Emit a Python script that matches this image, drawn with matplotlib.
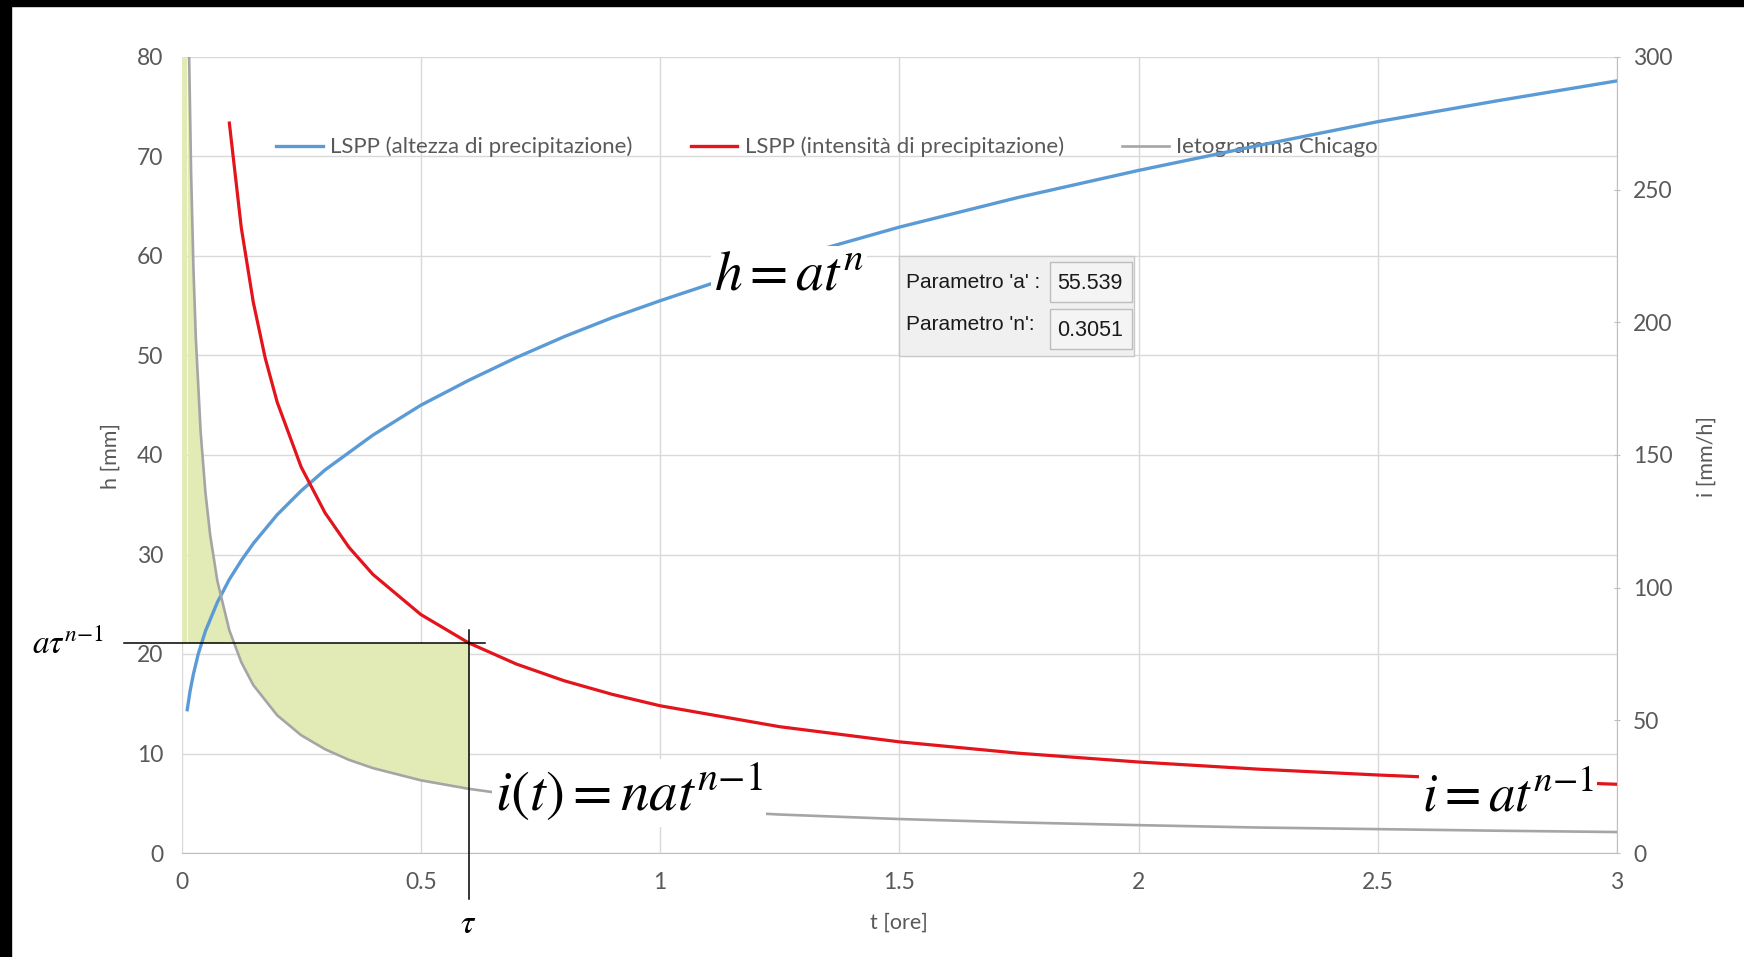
import matplotlib.pyplot as plt
import numpy as np
from matplotlib.lines import Line2D
from matplotlib.patches import Rectangle

plt.rcParams['font.family'] = ['Lato', 'DejaVu Sans']
plt.rcParams['mathtext.fontset'] = 'stix'

# parametri della LSPP (riquadro di input)
a_par = '55.539'
n_par = '0.3051'

# LSPP - altezza di precipitazione h [mm], asse sinistro
t_h = [0.012, 0.018, 0.025, 0.035, 0.05, 0.075, 0.1, 0.125, 0.15, 0.2, 0.25, 0.3,
       0.4, 0.5, 0.6, 0.7, 0.8, 0.9, 1.0, 1.25, 1.5, 1.75, 2.0, 2.25, 2.5, 2.75, 3.0]
h_mm = [14.4, 16.3, 18.0, 20.0, 22.3, 25.2, 27.5, 29.4, 31.1, 34.0, 36.4, 38.5,
        42.0, 45.0, 47.5, 49.8, 51.9, 53.8, 55.5, 59.5, 62.9, 65.9, 68.6, 71.1, 73.5, 75.6, 77.6]

# LSPP - intensita' di precipitazione i [mm/h], asse destro
t_i = [0.1, 0.125, 0.15, 0.175, 0.2, 0.25, 0.3, 0.35, 0.4, 0.5, 0.6, 0.7, 0.8, 0.9,
       1.0, 1.25, 1.5, 1.75, 2.0, 2.25, 2.5, 2.75, 3.0]
i_lspp = [275.1, 235.6, 207.6, 186.5, 169.9, 145.5, 128.2, 115.2, 105.0, 89.9, 79.2, 71.2,
          64.9, 59.8, 55.5, 47.6, 41.9, 37.6, 34.3, 31.6, 29.4, 27.5, 25.9]

# ietogramma Chicago [mm/h], asse destro
t_c = [0.012, 0.016, 0.02, 0.025, 0.03, 0.04, 0.05, 0.06, 0.075, 0.1, 0.125, 0.15, 0.2,
       0.25, 0.3, 0.35, 0.4, 0.5, 0.6, 0.7, 0.8, 0.9, 1.0, 1.25, 1.5, 1.75, 2.0, 2.25,
       2.5, 2.75, 3.0]
i_chicago = [366.0, 299.8, 256.9, 220.0, 193.8, 158.7, 135.9, 119.7, 102.5, 83.9, 71.9, 63.3,
             51.9, 44.4, 39.1, 35.1, 32.0, 27.4, 24.2, 21.7, 19.8, 18.2, 16.9, 14.5, 12.8,
             11.5, 10.5, 9.6, 9.0, 8.4, 7.9]

# durata tau e intensita' corrispondente a*tau^(n-1)
tau = 0.6
i_tau = 79.2

x_ticks = [0, 0.5, 1, 1.5, 2, 2.5, 3]
x_labels = ['0', '0.5', '1', '1.5', '2', '2.5', '3']
h_ticks = [0, 10, 20, 30, 40, 50, 60, 70, 80]
i_ticks = [0, 50, 100, 150, 200, 250, 300]

labels = ['LSPP (altezza di precipitazione)', 'LSPP (intensità di precipitazione)',
          'Ietogramma Chicago']

c_blue = '#5B9BD5'
c_red = '#E3141B'
c_gray = '#A5A5A5'
c_fill = '#E2EAB6'
c_text = '#595959'

W, H = 1744, 957


def fx(px):
    return px / W


def fy(py):
    return 1 - py / H


fig = plt.figure(figsize=(W / 100, H / 100), dpi=100)
ax = fig.add_axes([fx(181.5), fy(853), (1617 - 181.5) / W, (853 - 57) / H])
ax2 = ax.twinx()

# area tra ietogramma e intensita' costante fino a tau
tc = np.array(t_c)
ic = np.array(i_chicago)
m = tc <= tau
ax.fill_between(tc[m], ic[m], i_tau, color=c_fill, lw=0, zorder=1,
                transform=ax2.transData)
ax.fill_between([0, tc[0]], ic[0], i_tau, color=c_fill, lw=0, zorder=1,
                transform=ax2.transData)

ax.plot(t_h, h_mm, color=c_blue, lw=2.4, zorder=3)
ax2.plot(t_c, i_chicago, color=c_gray, lw=1.9, zorder=2)
ax2.plot(t_i, i_lspp, color=c_red, lw=2.3, zorder=3)

# linee di riferimento su tau
ax2.plot([-0.12, tau + 0.035], [i_tau, i_tau], color='black', lw=1.1, clip_on=False, zorder=6)
ax2.plot([tau, tau], [-17.5, i_tau + 5], color='black', lw=1.1, clip_on=False, zorder=6)

ax.set_xlim(0, 3)
ax.set_ylim(0, 80)
ax2.set_ylim(0, 300)
ax.set_xticks(x_ticks)
ax.set_xticklabels(x_labels)
ax.set_yticks(h_ticks)
ax2.set_yticks(i_ticks)

ax.grid(True, color='#D9D9D9', lw=1.0)
ax.set_axisbelow(True)
for s in ['top', 'left', 'right']:
    ax.spines[s].set_visible(False)
ax.spines['bottom'].set_color('#BFBFBF')
for s in ['top', 'left', 'bottom']:
    ax2.spines[s].set_visible(False)
ax2.spines['right'].set_color('#BFBFBF')

ax.tick_params(axis='both', length=0, labelsize=16.5, labelcolor=c_text)
ax.tick_params(axis='y', pad=13)
ax.tick_params(axis='x', pad=14)
ax2.tick_params(axis='y', direction='inout', length=5, color='#BFBFBF',
                labelsize=16.5, labelcolor=c_text, pad=9)

handles = [Line2D([], [], color=c_blue, lw=2.4),
           Line2D([], [], color=c_red, lw=2.4),
           Line2D([], [], color=c_gray, lw=1.9)]
leg = ax.legend(handles, labels, loc='center left', bbox_to_anchor=(fx(276), fy(147)),
                bbox_transform=fig.transFigure, ncol=3, frameon=False, fontsize=16,
                handlelength=2.1, handletextpad=0.35, columnspacing=2.6,
                borderpad=0, borderaxespad=0)
for txt in leg.get_texts():
    txt.set_color(c_text)
leg.set_zorder(2.5)

fig.text(fx(111), fy(456), 'h [mm]', rotation=90, ha='center', va='center',
         size=15.5, color=c_text)
fig.text(fx(1707), fy(456), 'i [mm/h]', rotation=90, ha='center', va='center',
         size=15.5, color=c_text)
fig.text(fx(899), fy(923), 't [ore]', ha='center', va='center', size=15.5, color=c_text)

# formule
box = dict(facecolor='white', edgecolor='none', pad=2)
ax.text(1.27, 58.2, r'$h=at^n$', size=40, ha='center', va='center', bbox=box, zorder=8)
ax2.text(0.935, 22.6, r'$i(t)=nat^{n{-}1}$', size=41, ha='center', va='center',
         bbox=box, zorder=8)
ax2.text(2.772, 21.4, r'$i=at^{n{-}1}$', size=38, ha='center', va='center',
         bbox=box, zorder=8)
ax2.text(-0.237, 78.8, r'$a\tau^{n{-}1}$', size=24, ha='center', va='center')
ax2.text(0.598, -26.8, r'$\tau$', size=24, ha='center', va='center')

# riquadro parametri
pfont = ['Liberation Sans', 'DejaVu Sans']
fig.add_artist(Rectangle((fx(899), fy(356)), (1134 - 899) / W, (356 - 256) / H,
                         transform=fig.transFigure, facecolor='#F0F0F0',
                         edgecolor='#C8C8C8', lw=1))
for top in (262, 309):
    fig.add_artist(Rectangle((fx(1050), fy(top + 40)), 82 / W, 40 / H,
                             transform=fig.transFigure, facecolor='#F4F4F4',
                             edgecolor='#BDBDBD', lw=1))
fig.text(fx(906), fy(282), "Parametro 'a' :", ha='left', va='center', size=15,
         family=pfont, color='#1A1A1A')
fig.text(fx(906), fy(325), "Parametro 'n':", ha='left', va='center', size=15,
         family=pfont, color='#1A1A1A')
fig.text(fx(1090), fy(284), a_par, ha='center', va='center', size=15.5,
         family=pfont, color='#1A1A1A')
fig.text(fx(1090), fy(330), n_par, ha='center', va='center', size=15.5,
         family=pfont, color='#1A1A1A')

# bordo nero
fig.add_artist(Rectangle((0, 0), fx(11), 1, transform=fig.transFigure,
                         color='black', zorder=20))
fig.add_artist(Rectangle((0, fy(6)), 1, 6 / H, transform=fig.transFigure,
                         color='black', zorder=20))

fig.savefig('out.png', dpi=100)
